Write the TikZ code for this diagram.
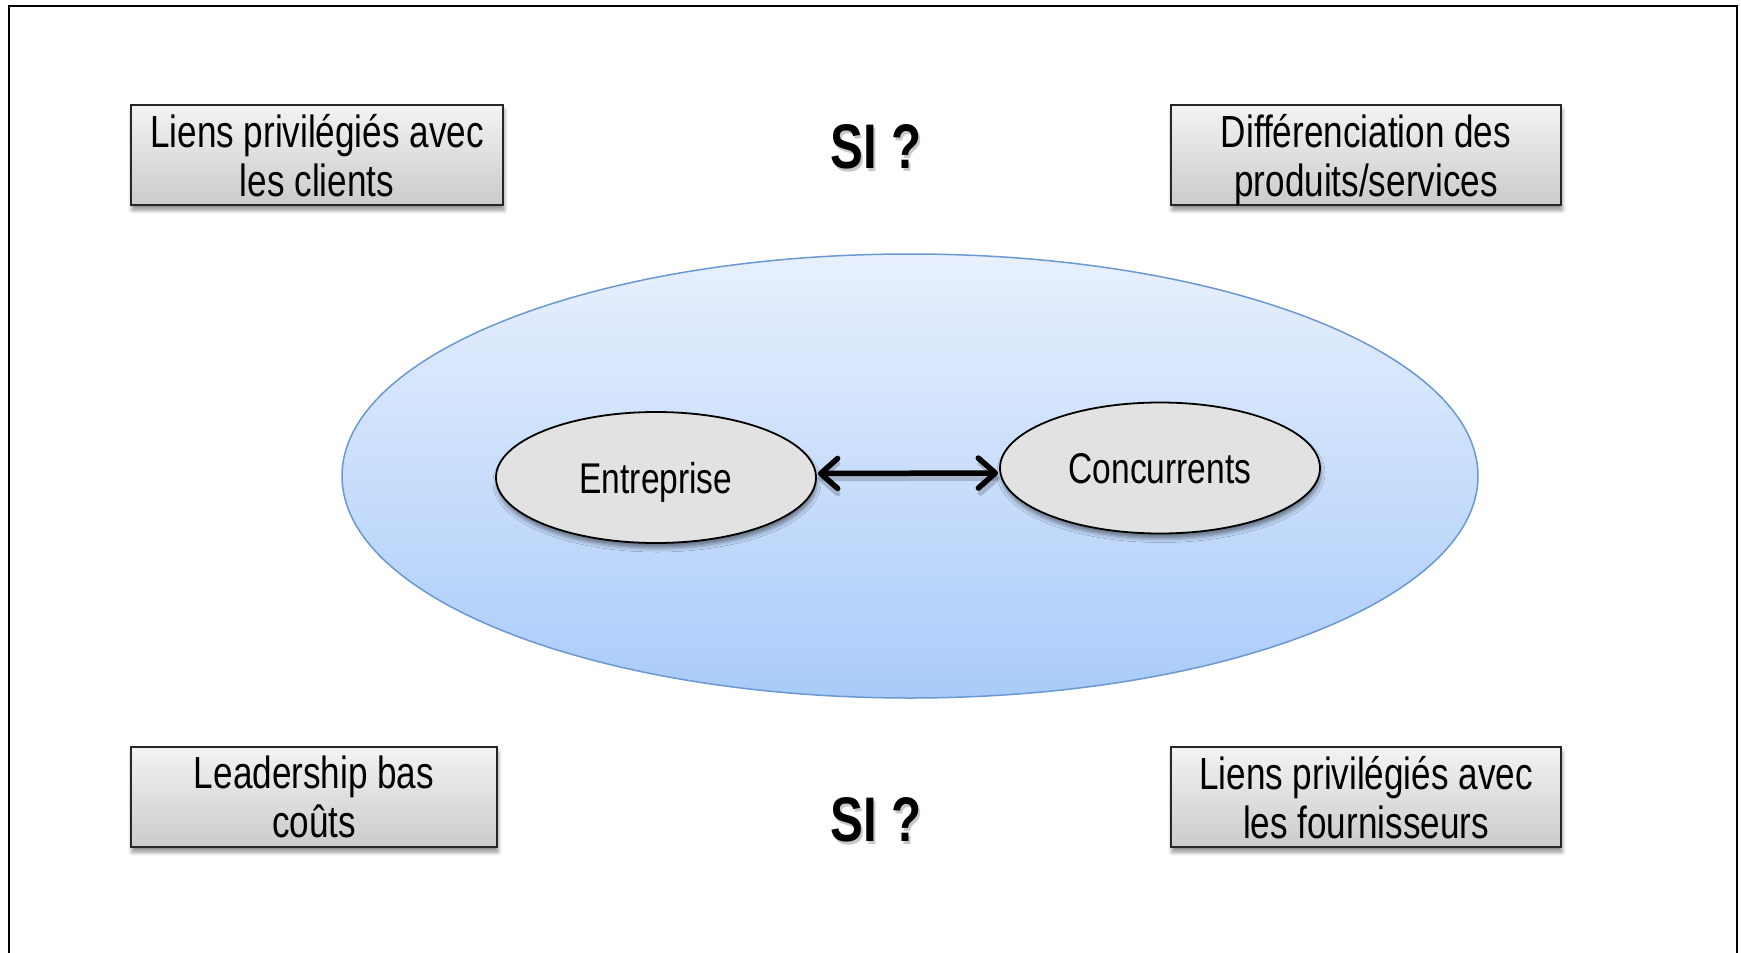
\documentclass[tikz,border=0pt]{standalone}
\usepackage{fontspec}
\setmainfont{Liberation Sans}[FakeStretch=0.78]
\usetikzlibrary{shapes.geometric,shadows.blur,arrows.meta}

\definecolor{envtop}{HTML}{E8F0FD}
\definecolor{envbot}{HTML}{A9CBF9}
\definecolor{envline}{HTML}{6A98D2}
\definecolor{boxtop}{HTML}{F3F3F3}
\definecolor{boxbot}{HTML}{CBCBCB}
\definecolor{actfill}{HTML}{E2E2E2}

\begin{document}
\begin{tikzpicture}[x=1pt,y=-1pt,
  frame/.style={line width=2pt,draw=black},
  softshadow/.style={blur shadow={shadow xshift=1pt,shadow yshift=-5pt,shadow blur radius=4pt,shadow opacity=45}},
  stratbox/.style={draw=black!85,line width=1.5pt,top color=boxtop,bottom color=boxbot,
    minimum height=100pt,inner sep=0pt,align=center,text depth=0pt,
    font=\fontsize{45}{49}\selectfont,softshadow},
  actor/.style={ellipse,draw=black,line width=1.8pt,fill=actfill,minimum width=320pt,
    minimum height=131pt,inner sep=0pt,text depth=0pt,font=\fontsize{43}{48}\selectfont,softshadow},
  question/.style={anchor=base,font=\fontsize{63}{70}\selectfont\bfseries},
  qshadow/.style={question,text=black,opacity=0.22},
  barb/.tip={Straight Barb[length=17pt,width=30pt,round]},
  arr/.style={barb-barb,line width=5.5pt,line cap=round},
  arrshadow/.style={arr,draw=black,opacity=0.18}
]
\useasboundingbox (0,0) rectangle (1741,953);

% outer frame, open at the bottom
\draw[frame] (9,960) -- (9,6) -- (1737,6) -- (1737,960);

% competitive environment
\node[ellipse,inner sep=0pt,minimum width=1136pt,minimum height=444pt,
  top color=envtop,bottom color=envbot,draw=envline,line width=1.5pt] (env) at (910,476) {};

% the firm and its competitors
\node[actor] (ent) at (656,477.5) {Entreprise};
\node[actor] (conc) at (1160,468) {Concurrents};
\draw[arrshadow] ([xshift=1pt,yshift=-1pt]ent.east) -- ([xshift=1pt,yshift=-10pt]conc.west);
\draw[arr] ([xshift=1pt,yshift=4pt]ent.east) -- ([xshift=-1pt,yshift=-5pt]conc.west);

% strategic options
\node[stratbox,minimum width=372pt] (clients) at (317,155) {Liens privilégiés avec\\les clients};
\node[stratbox,minimum width=390pt] (diff) at (1366,155) {Différenciation des\\produits/services};
\node[stratbox,minimum width=366pt] (cost) at (314,797) {Leadership bas\\coûts};
\node[stratbox,minimum width=390pt] (fourn) at (1366,797) {Liens privilégiés avec\\les fournisseurs};

% questions about the information system
\node[qshadow] (q1s) at (878,171) {SI ?};
\node[question] (q1) at (876,168) {SI ?};
\node[qshadow] (q2s) at (878,844) {SI ?};
\node[question] (q2) at (876,841) {SI ?};
\end{tikzpicture}
\end{document}
